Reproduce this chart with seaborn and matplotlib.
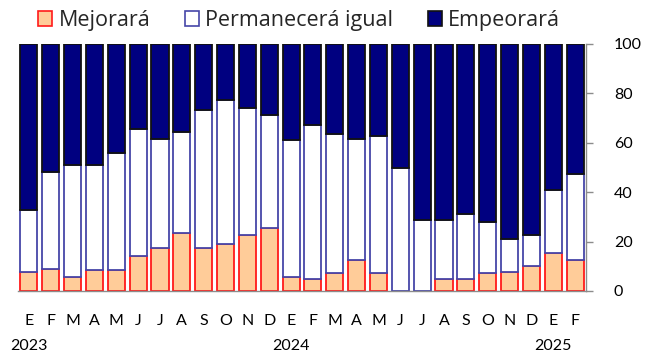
import numpy as np
import pandas as pd
import matplotlib
matplotlib.use("Agg")
import matplotlib.pyplot as plt
from matplotlib.patches import Patch
from matplotlib.transforms import blended_transform_factory
import seaborn as sns

# Monthly survey: share of answers (%) for each expectation
meses = ["E", "F", "M", "A", "M", "J", "J", "A", "S", "O", "N", "D",
         "E", "F", "M", "A", "M", "J", "J", "A", "S", "O", "N", "D",
         "E", "F"]
anios = {0: "2023", 12: "2024", 24: "2025"}

mejorara = [7.8, 9.0, 5.5, 8.5, 8.5, 14.3, 17.5, 23.4, 17.5, 19.2, 22.7, 25.6,
            5.5, 5.0, 7.2, 12.5, 7.2, 0.0, 0.0, 5.0, 5.0, 7.2, 7.8, 10.3,
            15.3, 12.5]
permanecera = [25.0, 39.3, 45.6, 42.6, 47.2, 51.2, 43.9, 40.8, 55.9, 58.0, 51.3, 45.5,
               55.5, 62.1, 56.4, 48.9, 55.7, 49.7, 28.7, 23.7, 26.2, 20.6, 13.1, 12.2,
               25.6, 34.7]
empeorara = [67.2, 51.7, 48.9, 48.9, 44.3, 34.5, 38.6, 35.8, 26.6, 22.8, 26.0, 28.9,
             39.0, 32.9, 36.4, 38.6, 37.1, 50.3, 71.3, 71.3, 68.8, 72.2, 79.1, 77.5,
             59.1, 52.8]

series = [
    ("Mejorará", mejorara, "#FFCC99", "#FF1A1A"),
    ("Permanecerá igual", permanecera, "#FFFFFF", "#4646A8"),
    ("Empeorará", empeorara, "#000080", "#111111"),
]

sns.set_style("white")
plt.rcParams["font.family"] = ["Lato", "DejaVu Sans"]

fig = plt.figure(figsize=(6.46, 3.52), dpi=100)
ax = fig.add_axes([18 / 646, 61 / 352, 568 / 646, 247 / 352])

idx = list(range(len(meses)))
base = np.zeros(len(meses))
for nombre, valores, relleno, borde in series:
    df = pd.DataFrame({"mes": idx, "valor": valores})
    sns.barplot(data=df, x="mes", y="valor", ax=ax, color=relleno,
                errorbar=None, width=0.78, bottom=base.copy(),
                edgecolor=borde, linewidth=1.3, saturation=1)
    base = base + np.array(valores)

ax.set_xlim(-0.5, len(meses) - 0.5)
ax.set_ylim(0, 100)
ax.set_xlabel("")
ax.set_ylabel("")

gris = "#8C8C8C"
for lado in ["left", "top"]:
    ax.spines[lado].set_visible(False)
for lado in ["right", "bottom"]:
    ax.spines[lado].set_color(gris)
    ax.spines[lado].set_linewidth(1.0)

# Right-hand value axis
ax.yaxis.tick_right()
ax.set_yticks([0, 20, 40, 60, 80, 100])
ax.tick_params(axis="y", which="major", direction="out", length=5, width=1,
               color=gris, pad=15, labelsize=11.5, labelcolor="black")

# Month letters centred on bars, tick marks between bars
ax.set_xticks(idx)
ax.set_xticklabels(meses)
ax.tick_params(axis="x", which="major", length=0, pad=16.5, labelsize=11.5,
               labelcolor="black")
ax.set_xticks(np.arange(-0.5, len(meses), 1.0), minor=True)
ax.tick_params(axis="x", which="minor", direction="out", length=4.5, width=1,
               color=gris)

trans = blended_transform_factory(ax.transData, fig.transFigure)
for pos, txt in anios.items():
    ax.text(pos, 1 - 345.5 / 352, txt, transform=trans, ha="center",
            va="center", fontsize=11.5, color="black")

handles = [Patch(facecolor=rel, edgecolor=bor, linewidth=1.2, label=nom)
           for nom, _, rel, bor in series]
fig.legend(handles=handles, loc="upper left", ncol=3,
           bbox_to_anchor=(38 / 646, 1 - 10 / 352), frameon=False,
           prop={"family": ["Open Sans", "DejaVu Sans"], "size": 15.5},
           handlelength=0.65, handleheight=0.65,
           handletextpad=0.3, columnspacing=1.6, borderpad=0,
           borderaxespad=0)

fig.savefig("out.png", dpi=100)
